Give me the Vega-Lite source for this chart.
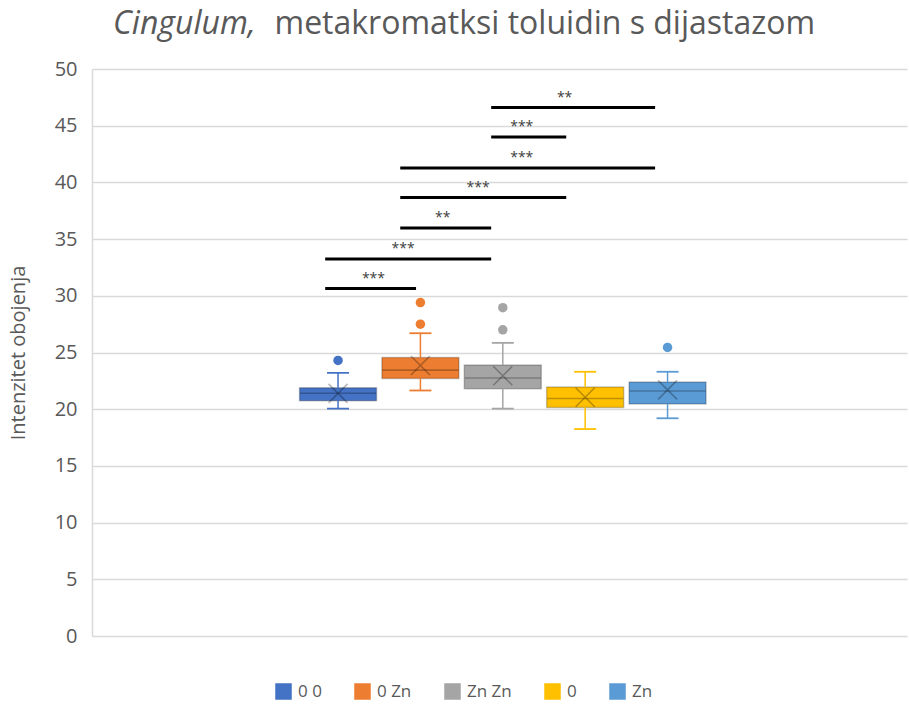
{
  "$schema": "https://vega.github.io/schema/vega-lite/v6.json",
  "width": 815,
  "height": 567,
  "autosize": {"type": "none"},
  "padding": {"left": 92, "top": 69, "right": 2, "bottom": 71},
  "background": "white",
  "title": {
    "text": "Cingulum,",
    "font": "Open Sans",
    "fontSize": 32,
    "fontStyle": "italic",
    "fontWeight": "normal",
    "color": "#595959",
    "anchor": "start",
    "frame": "group",
    "baseline": "alphabetic",
    "dx": 21,
    "dy": 59,
    "offset": 0
  },
  "config": {
    "view": {"stroke": null},
    "font": "Open Sans",
    "axisX": {
      "domain": false,
      "ticks": false,
      "labels": false,
      "grid": false,
      "titleFont": "Open Sans",
      "titleFontSize": 32,
      "titleFontWeight": "normal",
      "titleColor": "#595959",
      "titleAnchor": "start",
      "titleAlign": "left",
      "titleBaseline": "alphabetic",
      "titleX": 182,
      "titleY": -603
    },
    "axisY": {
      "values": [0, 5, 10, 15, 20, 25, 30, 35, 40, 45, 50],
      "grid": true,
      "gridColor": "#d9d9d9",
      "gridWidth": 1.5,
      "domain": true,
      "domainColor": "#d9d9d9",
      "domainWidth": 1.5,
      "ticks": false,
      "labelPadding": 15,
      "labelFontSize": 20,
      "labelColor": "#595959",
      "titleFontSize": 20,
      "titleFontWeight": "normal",
      "titleColor": "#595959",
      "titlePadding": 26
    },
    "legend": {
      "orient": "none",
      "legendX": 183,
      "legendY": 614,
      "direction": "horizontal",
      "symbolType": "square",
      "symbolSize": 225,
      "labelFontSize": 17,
      "labelColor": "#595959",
      "labelOffset": 6,
      "columnPadding": 30
    }
  },
  "datasets": {
    "boxes": [
      {"group": "0 0", "pos": 1, "lower": 20.05, "q1": 20.75, "median": 21.4, "q3": 21.9, "upper": 23.2, "mean": 21.4},
      {"group": "0 Zn", "pos": 2, "lower": 21.65, "q1": 22.7, "median": 23.45, "q3": 24.55, "upper": 26.7, "mean": 23.85},
      {"group": "Zn Zn", "pos": 3, "lower": 20.05, "q1": 21.8, "median": 22.75, "q3": 23.9, "upper": 25.85, "mean": 22.95},
      {"group": "0", "pos": 4, "lower": 18.25, "q1": 20.15, "median": 20.95, "q3": 21.95, "upper": 23.3, "mean": 21.05},
      {"group": "Zn", "pos": 5, "lower": 19.2, "q1": 20.45, "median": 21.6, "q3": 22.4, "upper": 23.3, "mean": 21.7}
    ],
    "outliers": [
      {"group": "0 0", "pos": 1, "value": 24.3},
      {"group": "0 Zn", "pos": 2, "value": 27.5},
      {"group": "0 Zn", "pos": 2, "value": 29.4},
      {"group": "Zn Zn", "pos": 3, "value": 27.0},
      {"group": "Zn Zn", "pos": 3, "value": 28.95},
      {"group": "Zn", "pos": 5, "value": 25.45}
    ],
    "sig": [
      {"x1": 0.844, "x2": 1.947, "y": 30.64, "label": "***", "lx": 1.43},
      {"x1": 0.844, "x2": 2.859, "y": 33.25, "label": "***", "lx": 1.79},
      {"x1": 1.755, "x2": 2.859, "y": 35.98, "label": "**", "lx": 2.27},
      {"x1": 1.755, "x2": 3.77, "y": 38.66, "label": "***", "lx": 2.7},
      {"x1": 1.755, "x2": 4.849, "y": 41.27, "label": "***", "lx": 3.23},
      {"x1": 2.859, "x2": 3.77, "y": 44.0, "label": "***", "lx": 3.23},
      {"x1": 2.859, "x2": 4.849, "y": 46.6, "label": "**", "lx": 3.75}
    ]
  },
  "layer": [
    {
      "data": {"name": "boxes"},
      "mark": {"type": "bar", "size": 77, "orient": "vertical", "stroke": "black", "strokeOpacity": 0.22, "strokeWidth": 1.5},
      "encoding": {
        "x": {"field": "pos", "type": "quantitative", "scale": {"domain": [-1.926, 7.846], "nice": false, "zero": false}, "title": "metakromatksi toluidin s dijastazom"},
        "y": {"field": "q1", "type": "quantitative", "scale": {"domain": [0, 50], "nice": false}, "title": "Intenzitet obojenja"},
        "y2": {"field": "q3"},
        "color": {"field": "group", "type": "nominal", "title": null, "scale": {"domain": ["0 0", "0 Zn", "Zn Zn", "0", "Zn"], "range": ["#4472C4", "#ED7D31", "#A5A5A5", "#FFC000", "#5B9BD5"]}}
      }
    },
    {
      "data": {"name": "boxes"},
      "mark": {"type": "rule", "strokeWidth": 1.5},
      "encoding": {
        "x": {"field": "pos", "type": "quantitative", "title": "metakromatksi toluidin s dijastazom"},
        "y": {"field": "lower", "type": "quantitative", "title": "Intenzitet obojenja"},
        "y2": {"field": "q1"},
        "color": {"field": "group", "type": "nominal"}
      }
    },
    {
      "data": {"name": "boxes"},
      "mark": {"type": "rule", "strokeWidth": 1.5},
      "encoding": {
        "x": {"field": "pos", "type": "quantitative", "title": "metakromatksi toluidin s dijastazom"},
        "y": {"field": "q3", "type": "quantitative", "title": "Intenzitet obojenja"},
        "y2": {"field": "upper"},
        "color": {"field": "group", "type": "nominal"}
      }
    },
    {
      "data": {"name": "boxes"},
      "mark": {"type": "tick", "orient": "horizontal", "size": 22, "thickness": 1.8, "opacity": 1},
      "encoding": {
        "x": {"field": "pos", "type": "quantitative", "title": "metakromatksi toluidin s dijastazom"},
        "y": {"field": "upper", "type": "quantitative", "title": "Intenzitet obojenja"},
        "color": {"field": "group", "type": "nominal"}
      }
    },
    {
      "data": {"name": "boxes"},
      "mark": {"type": "tick", "orient": "horizontal", "size": 22, "thickness": 1.8, "opacity": 1},
      "encoding": {
        "x": {"field": "pos", "type": "quantitative", "title": "metakromatksi toluidin s dijastazom"},
        "y": {"field": "lower", "type": "quantitative", "title": "Intenzitet obojenja"},
        "color": {"field": "group", "type": "nominal"}
      }
    },
    {
      "data": {"name": "boxes"},
      "mark": {"type": "tick", "orient": "horizontal", "size": 76, "thickness": 1.6, "color": "black", "opacity": 0.25},
      "encoding": {
        "x": {"field": "pos", "type": "quantitative", "title": "metakromatksi toluidin s dijastazom"},
        "y": {"field": "median", "type": "quantitative", "title": "Intenzitet obojenja"}
      }
    },
    {
      "data": {"name": "boxes"},
      "mark": {"type": "point", "shape": "M-1,-1L1,1M-1,1L1,-1", "size": 361, "filled": false, "stroke": "black", "strokeOpacity": 0.28, "strokeWidth": 1.6, "opacity": 1},
      "encoding": {
        "x": {"field": "pos", "type": "quantitative", "title": "metakromatksi toluidin s dijastazom"},
        "y": {"field": "mean", "type": "quantitative", "title": "Intenzitet obojenja"}
      }
    },
    {
      "data": {"name": "outliers"},
      "mark": {"type": "circle", "size": 90, "opacity": 1},
      "encoding": {
        "x": {"field": "pos", "type": "quantitative", "title": "metakromatksi toluidin s dijastazom"},
        "y": {"field": "value", "type": "quantitative", "title": "Intenzitet obojenja"},
        "color": {"field": "group", "type": "nominal"}
      }
    },
    {
      "data": {"name": "sig"},
      "mark": {"type": "rule", "strokeWidth": 3, "color": "black"},
      "encoding": {
        "x": {"field": "x1", "type": "quantitative", "title": "metakromatksi toluidin s dijastazom"},
        "x2": {"field": "x2"},
        "y": {"field": "y", "type": "quantitative", "title": "Intenzitet obojenja"}
      }
    },
    {
      "data": {"name": "sig"},
      "mark": {"type": "text", "fontSize": 14, "color": "#404040", "baseline": "middle", "align": "center", "dy": -10},
      "encoding": {
        "x": {"field": "lx", "type": "quantitative", "title": "metakromatksi toluidin s dijastazom"},
        "y": {"field": "y", "type": "quantitative", "title": "Intenzitet obojenja"},
        "text": {"field": "label"}
      }
    }
  ]
}
